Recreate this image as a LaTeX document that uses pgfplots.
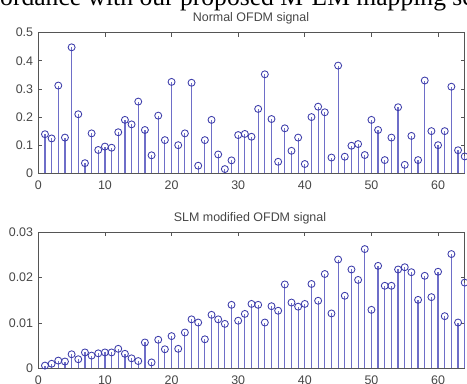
\documentclass[border=0pt]{standalone}
\usepackage{pgfplots}
\pgfplotsset{compat=1.18}
\usepackage{fontspec}
\setmainfont{Liberation Sans}
\newfontfamily\seriffont{Liberation Serif}
\definecolor{stemc}{RGB}{110,110,200}
\definecolor{markc}{RGB}{60,60,170}
\definecolor{markf}{RGB}{225,225,245}
\definecolor{axc}{RGB}{85,85,85}
\definecolor{txc}{RGB}{70,70,70}
\pgfplotsset{
  stemax/.style={
    scale only axis, anchor=south west,
    width=426.4bp,
    xmin=0, xmax=64,
    xtick={0,10,...,60},
    clip=false,
    axis line style={axc, line width=0.9bp},
    tick style={axc, line width=0.7bp},
    tickpos=both, tick align=inside,
    major tick length=4bp,
    font=\fontsize{12.5}{14}\selectfont,
    tick label style={txc},
    /pgf/number format/assume math mode=true,
    xticklabel style={anchor=north, inner sep=0pt, yshift=-7bp},
    yticklabel style={anchor=east, inner sep=0pt, xshift=-5bp},
    scaled y ticks=false,
    yticklabel={\pgfmathprintnumber[fixed, precision=3]{\tick}},
  },
  stemplot/.style={
    ycomb, stemc, line width=1.2bp,
    mark=o, mark size=3.5bp,
    mark options={draw=markc, fill=markf, line width=0.85bp},
  },
}
\begin{document}
\begin{tikzpicture}[x=1bp,y=1bp]
\useasboundingbox (0,0) rectangle (467,383);
\clip (0,0) rectangle (467,383);
\node[anchor=base west, inner sep=0pt, font=\seriffont\fontsize{25.7}{25.7}\selectfont] at (0,378) {ordance with our proposed M-LM mapping scheme};
\node[txc, font=\fontsize{12.5}{14}\selectfont] at (251,365) {Normal OFDM signal};
\node[txc, font=\fontsize{12.5}{14}\selectfont] at (250,165) {SLM modified OFDM signal};
\begin{axis}[stemax, at={(38.3bp,209.7bp)}, height=140.6bp,
  ymin=0, ymax=0.5, ytick={0,0.1,...,0.5}]
\addplot[stemplot] coordinates {
(1,0.139)(2,0.124)(3,0.312)(4,0.127)(5,0.448)(6,0.21)(7,0.036)(8,0.142)
(9,0.083)(10,0.095)(11,0.091)(12,0.146)(13,0.19)(14,0.174)(15,0.255)(16,0.154)
(17,0.064)(18,0.205)(19,0.118)(20,0.325)(21,0.10)(22,0.142)(23,0.322)(24,0.027)
(25,0.118)(26,0.19)(27,0.067)(28,0.015)(29,0.046)(30,0.136)(31,0.14)(32,0.13)
(33,0.229)(34,0.352)(35,0.193)(36,0.041)(37,0.16)(38,0.08)(39,0.127)(40,0.033)
(41,0.20)(42,0.237)(43,0.217)(44,0.056)(45,0.383)(46,0.059)(47,0.098)(48,0.104)
(49,0.065)(50,0.19)(51,0.154)(52,0.047)(53,0.127)(54,0.235)(55,0.030)(56,0.133)
(57,0.047)(58,0.33)(59,0.15)(60,0.10)(61,0.15)(62,0.308)(63,0.082)(64,0.06)
};
\end{axis}
\begin{axis}[stemax, at={(38.3bp,14.7bp)}, height=136bp,
  ymin=0, ymax=0.03, ytick={0,0.01,0.02,0.03}]
\addplot[stemplot] coordinates {
(1,0.0006)(2,0.001)(3,0.0017)(4,0.0015)(5,0.0031)(6,0.002)(7,0.0035)(8,0.0028)
(9,0.0033)(10,0.0035)(11,0.0035)(12,0.0043)(13,0.0032)(14,0.0022)(15,0.0016)(16,0.0057)
(17,0.0013)(18,0.0063)(19,0.0042)(20,0.0071)(21,0.0043)(22,0.0079)(23,0.0108)(24,0.0101)
(25,0.0064)(26,0.0118)(27,0.0108)(28,0.0098)(29,0.014)(30,0.0105)(31,0.012)(32,0.0142)
(33,0.014)(34,0.0101)(35,0.0137)(36,0.0127)(37,0.0185)(38,0.0145)(39,0.0136)(40,0.0142)
(41,0.0186)(42,0.0149)(43,0.0208)(44,0.0121)(45,0.024)(46,0.016)(47,0.0218)(48,0.0195)
(49,0.0263)(50,0.0129)(51,0.0226)(52,0.0182)(53,0.0182)(54,0.0218)(55,0.0223)(56,0.0212)
(57,0.0151)(58,0.0204)(59,0.0157)(60,0.0213)(61,0.0115)(62,0.0252)(63,0.0101)(64,0.0189)
};
\end{axis}
\end{tikzpicture}
\end{document}
